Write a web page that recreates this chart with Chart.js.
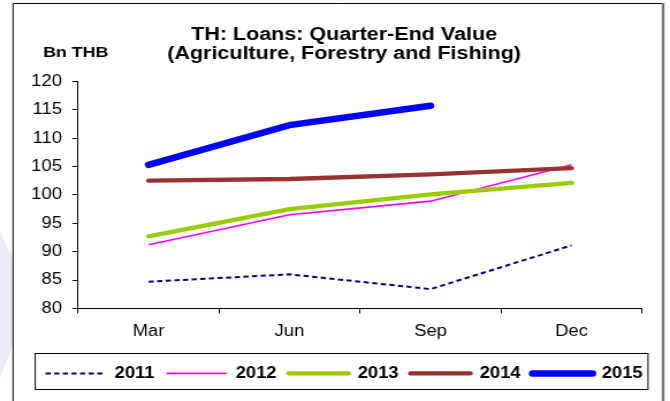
<!DOCTYPE html>
<html>
<head>
<meta charset="utf-8">
<script src="https://cdn.jsdelivr.net/npm/chart.js@4"></script>
<style>
  html, body { margin: 0; padding: 0; background: #fff; overflow: hidden; }
  /* the reference is drawn with text a little wider than tall, so draw narrow and stretch */
  #wrap { width: 582px; height: 401px; transform: scaleX(1.1512); transform-origin: 0 0; }
  #myChart { display: block; }
</style>
</head>
<body>
<div id="wrap"><canvas id="myChart" width="582" height="401"></canvas></div>
<script>
var quarters = ['Mar', 'Jun', 'Sep', 'Dec'];
var years = ['2011', '2012', '2013', '2014', '2015'];
var loans2011 = [84.7, 86.0, 83.4, 91.1];
var loans2012 = [91.2, 96.5, 98.9, 105.3];
var loans2013 = [92.7, 97.5, 100.1, 102.1];
var loans2014 = [102.5, 102.8, 103.6, 104.7];
var loans2015 = [105.3, 112.3, 115.7, null];
var yTicks = [80, 85, 90, 95, 100, 105, 110, 115, 120];

var FONT = 'Arial, "Liberation Sans", sans-serif';

// frame, watermark, unit label and the box round the legend
var framePlugin = {
    id: 'frame',
    beforeDraw: function(chart) {
        var ctx = chart.ctx;
        ctx.save();
        ctx.fillStyle = '#eceaf4';
        ctx.beginPath();
        ctx.moveTo(0, 232);
        ctx.lineTo(11, 258);
        ctx.lineTo(11, 345);
        ctx.lineTo(0, 378);
        ctx.closePath();
        ctx.fill();
        ctx.strokeStyle = '#000';
        ctx.lineWidth = 1;
        ctx.beginPath();
        ctx.moveTo(11.3, 401);
        ctx.lineTo(11.3, 3.5);
        ctx.lineTo(575, 3.5);
        ctx.stroke();
        ctx.strokeStyle = '#777';
        ctx.lineWidth = 2.4;
        ctx.beginPath();
        ctx.moveTo(576, 3);
        ctx.lineTo(576, 401);
        ctx.stroke();
        ctx.restore();
    },
    afterDraw: function(chart) {
        var ctx = chart.ctx;
        ctx.save();
        ctx.fillStyle = '#000';
        ctx.font = 'bold 15.5px ' + FONT;
        ctx.textAlign = 'left';
        ctx.textBaseline = 'alphabetic';
        ctx.fillText('Bn THB', 37.4, 56.5);
        ctx.strokeStyle = '#000';
        ctx.lineWidth = 1;
        ctx.strokeRect(30.6, 353.5, 532.3, 36);
        ctx.restore();
    }
};

// legend samples: keep the dataset's dash and caps (point style drops them)
function legendLabels(chart) {
    var items = Chart.defaults.plugins.legend.labels.generateLabels(chart);
    items.forEach(function(item) {
        var ds = chart.data.datasets[item.datasetIndex];
        item.lineDash = ds.borderDash || [];
        item.lineCap = ds.borderCapStyle || 'butt';
    });
    return items.sort(function(a, b) { return a.datasetIndex - b.datasetIndex; });
}

var ctx = document.getElementById('myChart').getContext('2d');
var myChart = new Chart(ctx, {
    type: 'line',
    data: {
        labels: quarters,
        datasets: [{
            label: years[0],
            data: loans2011,
            borderColor: '#000080',
            borderWidth: 2,
            borderDash: [4.5, 3],
            order: 5
        },
        {
            label: years[1],
            data: loans2012,
            borderColor: '#ff00ff',
            borderWidth: 1.6,
            order: 4
        },
        {
            label: years[2],
            data: loans2013,
            borderColor: '#99cc00',
            borderWidth: 4.3,
            borderCapStyle: 'round',
            order: 3
        },
        {
            label: years[3],
            data: loans2014,
            borderColor: '#993333',
            borderWidth: 4.3,
            borderCapStyle: 'round',
            order: 2
        },
        {
            label: years[4],
            data: loans2015,
            borderColor: '#0000ff',
            borderWidth: 6.5,
            borderCapStyle: 'round',
            order: 1
        }]
    },
    options: {
        responsive: false,
        devicePixelRatio: 1,
        animation: false,
        elements: {
            point: { radius: 0, hoverRadius: 0 },
            line: { tension: 0, fill: false }
        },
        layout: { padding: { left: 22, right: 6.2, top: 26, bottom: 9.6 } },
        plugins: {
            tooltip: { enabled: false },
            title: {
                display: true,
                text: ['TH: Loans: Quarter-End Value', '(Agriculture, Forestry and Fishing)'],
                color: '#000',
                font: { family: FONT, size: 18.7, weight: 'bold', lineHeight: 1.0 },
                padding: { top: 0, bottom: 18 }
            },
            legend: {
                position: 'bottom',
                labels: {
                    generateLabels: legendLabels,
                    usePointStyle: true,
                    pointStyle: 'line',
                    pointStyleWidth: 52,
                    boxHeight: 16,
                    padding: 10.4,
                    color: '#000',
                    font: { family: FONT, size: 16, weight: 'bold' }
                }
            }
        },
        scales: {
            x: {
                offset: true,
                afterFit: function(scale) { scale.height = 46.6; },
                grid: {
                    offset: true,
                    drawOnChartArea: false,
                    drawTicks: true,
                    tickLength: 5,
                    color: '#000'
                },
                border: { display: true, color: '#000', width: 1 },
                ticks: {
                    color: '#000',
                    padding: 9,
                    font: { family: FONT, size: 16 }
                }
            },
            y: {
                min: 80,
                max: 120,
                afterFit: function(scale) { scale.width = 45.8; },
                afterBuildTicks: function(scale) {
                    scale.ticks = yTicks.map(function(v) { return { value: v }; });
                },
                grid: {
                    drawOnChartArea: false,
                    drawTicks: true,
                    tickLength: 5,
                    color: '#000'
                },
                border: { display: true, color: '#000', width: 1 },
                ticks: {
                    color: '#000',
                    padding: 9,
                    font: { family: FONT, size: 16 }
                }
            },
            // empty spacer on the right so the plot ends where the reference's does
            spacer: {
                type: 'linear',
                position: 'right',
                afterFit: function(scale) { scale.width = 18.1; },
                grid: { display: false, drawTicks: false },
                border: { display: false },
                ticks: { display: false }
            }
        }
    },
    plugins: [framePlugin]
});
</script>
</body>
</html>
